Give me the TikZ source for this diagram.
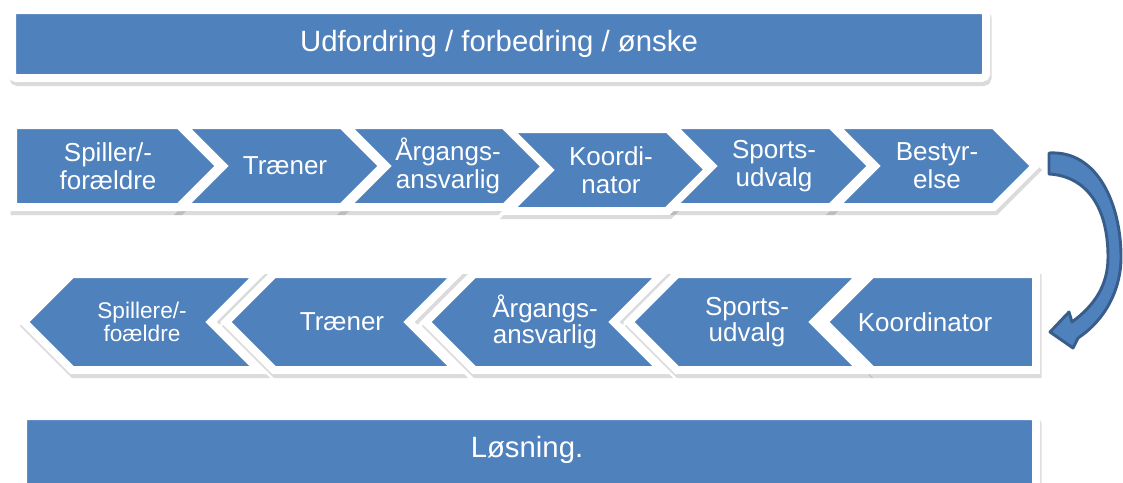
\documentclass[tikz,border=0pt]{standalone}
\usepackage{fontspec}
\setmainfont{Liberation Sans}
\usepackage{xcolor}
\usetikzlibrary{calc}
\definecolor{boxblue}{HTML}{4F81BD}
\definecolor{arrowline}{HTML}{385D8A}

\def\topchevrons{182/342/166/traener1/285/{Træner},
  345/505/166/aargang1/448/{Årgangs-\\ansvarlig},
  508/668/170/koord1/611/{Koordi-\\nator},
  671/831/166/sport1/774/{Sports-\\udvalg},
  834/994/166/bestyr/937/{Bestyr-\\else}}
\def\lowchevrons{72/259/322/spiller2/142/17/{Spillere/-\\foældre},
  274/457/322/traener2/342/19.5/{Træner},
  474/662/322/aargang2/545/19.5/{Årgangs-\\ansvarlig},
  677/862/322/sport2/747/19.5/{Sports-\\udvalg}}

\begin{document}
\begin{tikzpicture}[x=0.75pt,y=-0.75pt,
  arrowbox/.style={fill=boxblue,draw=white,line width=6pt,line join=miter},
  boxshadow/.style={fill=black,draw=black,line width=6pt,opacity=0.14,shift={(1.5,4)}},
  boxtext/.style={text=white,align=center,inner sep=0pt,font=\fontsize{19.5}{21}\selectfont},
  bendarrow/.style={fill=boxblue,draw=arrowline,line width=2.2pt,line join=round}]
\useasboundingbox (0,0) rectangle (1123,482);

% top bar
\path[boxshadow,rounded corners=3pt] (12,10) rectangle (986,78);
\draw[arrowbox,rounded corners=3pt] (12,10) rectangle (986,78);
\node[boxtext,font=\fontsize{22}{24}\selectfont] (problem) at (499,44) {Udfordring / forbedring / ønske};

% first row, left to right
\path[boxshadow] (13,125) -- (179,125) -- (220,166) -- (179,207) -- (13,207) -- cycle;
\foreach \lx/\rx/\yy/\nm/\tx/\lbl in \topchevrons
  \path[boxshadow] (\lx,\yy-41) -- (\rx,\yy-41) -- (\rx+41,\yy) -- (\rx,\yy+41) -- (\lx,\yy+41) -- (\lx+41,\yy) -- cycle;
\draw[arrowbox] (13,125) -- (179,125) -- (220,166) -- (179,207) -- (13,207) -- cycle;
\node[boxtext] (spiller1) at (108,166) {Spiller/-\\forældre};
\foreach \lx/\rx/\yy/\nm/\tx/\lbl in \topchevrons {
  \draw[arrowbox] (\lx,\yy-41) -- (\rx,\yy-41) -- (\rx+41,\yy) -- (\rx,\yy+41) -- (\lx,\yy+41) -- (\lx+41,\yy) -- cycle;
  \coordinate (\nm-tip) at (\rx+41,\yy);
  \node[boxtext] (\nm) at (\tx,\yy) {\lbl};
}

% second row, right to left
\path[boxshadow] (872,274) -- (1036,274) -- (1036,370) -- (872,370) -- (824,322) -- cycle;
\foreach \lx/\rx/\yy/\nm/\tx/\fs/\lbl in \lowchevrons
  \path[boxshadow] (\lx,\yy-48) -- (\rx,\yy-48) -- (\rx-48,\yy) -- (\rx,\yy+48) -- (\lx,\yy+48) -- (\lx-48,\yy) -- cycle;
\foreach \lx/\rx/\yy/\nm/\tx/\fs/\lbl in \lowchevrons {
  \draw[arrowbox] (\lx,\yy-48) -- (\rx,\yy-48) -- (\rx-48,\yy) -- (\rx,\yy+48) -- (\lx,\yy+48) -- (\lx-48,\yy) -- cycle;
  \node[boxtext,font=\fontsize{\fs}{\fs}\selectfont] (\nm) at (\tx,\yy) {\lbl};
}
\draw[arrowbox] (872,274) -- (1036,274) -- (1036,370) -- (872,370) -- (824,322) -- cycle;
\node[boxtext] (koord2) at (925,322) {Koordinator};

% turn from the first row down to the second
\begin{scope}[shift={(bestyr-tip)}]
\draw[bendarrow] (14,-13) .. controls (63,-16) and (86,39) .. (86,91)
  .. controls (86,124) and (70,154) .. (43,172) -- (38,182) -- (15,166) -- (34,146) -- (37,156)
  .. controls (60,139) and (73,119) .. (73,91) .. controls (73,39) and (50,10) .. (14,8) -- cycle;
\end{scope}

% bottom bar
\path[boxshadow,rounded corners=3pt] (23,416) rectangle (1036,490);
\draw[arrowbox,rounded corners=3pt] (23,416) rectangle (1036,490);
\node[boxtext,font=\fontsize{22}{24}\selectfont] (solution) at (527,450) {Løsning.};
\end{tikzpicture}
\end{document}
